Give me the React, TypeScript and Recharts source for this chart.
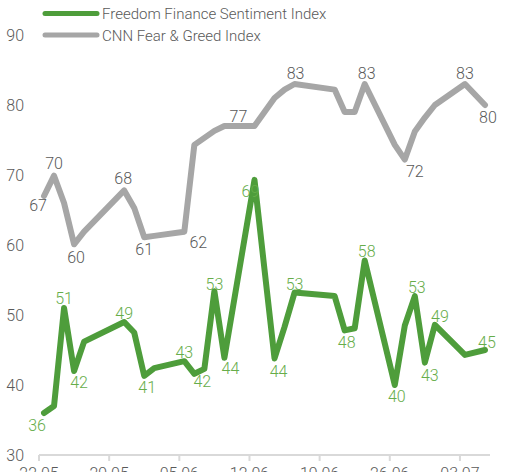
import React from "react";
import { LineChart, Line, XAxis, YAxis, LabelList } from "recharts";

// Trading days (dd.mm, 2023)
const tradingDates = [
  "22.05", "23.05", "24.05", "25.05", "26.05", "30.05", "31.05", "01.06", "02.06",
  "05.06", "06.06", "07.06", "08.06", "09.06", "12.06", "13.06", "14.06", "15.06",
  "16.06", "20.06", "21.06", "22.06", "23.06", "26.06", "27.06", "28.06", "29.06",
  "30.06", "03.07", "05.07",
];

const freedomIndex = [
  36, 37, 51, 42, 46.2, 49, 47.5, 41.3, 42.4, 43.4, 41.6, 42.3, 53.4, 43.9, 69.3,
  56.5, 43.8, 48.3, 53.2, 52.7, 47.8, 48.1, 57.8, 40, 48.5, 52.7, 43.2, 48.6, 44.3, 45,
];

const cnnIndex = [
  67, 69.9, 66, 60.1, 61.9, 67.8, 65.3, 61.1, 61.3, 61.9, 74.3, 75.3, 76.3, 77, 77,
  79, 81, 82.2, 83, 82.2, 79, 79, 83, 74.3, 72.2, 76.2, 78.2, 80, 83, 80,
];

const tickLabels = ["22.05", "29.05", "05.06", "12.06", "19.06", "26.06", "03.07"];
const yTicks = [30, 40, 50, 60, 70, 80, 90];

// Which points carry a value label, and where the label sits relative to the point (style)
const greenLabelPlacement: Record<number, [number, number]> = {
  0: [-7, 12], 2: [0, -10], 3: [5, 11], 5: [0, -9], 7: [3, 12], 9: [0, -9],
  10: [8, 8], 12: [0, -7], 13: [6, 11], 14: [-4, 12], 16: [4, 13], 18: [0, -8],
  20: [2, 12], 22: [2, -9], 23: [2, 11], 25: [2, -9], 26: [5, 13], 27: [5, -8], 29: [2, -8],
};
const grayLabelPlacement: Record<number, [number, number]> = {
  0: [-6, 9], 1: [0, -12], 3: [2, 13], 5: [-1, -12], 7: [0, 12], 9: [14, 11],
  13: [14, -10], 18: [1, -11], 22: [2, -11], 24: [10, 12], 28: [0, -11], 29: [3, 12],
};

const BASE = new Date(2023, 4, 22).getTime();
const dayOffset = (s: string) => {
  const [d, m] = s.split(".").map(Number);
  return Math.round((new Date(2023, m - 1, d).getTime() - BASE) / 86400000);
};

const data = tradingDates.map((s, i) => ({
  x: dayOffset(s) + 0.5,
  freedom: freedomIndex[i],
  cnn: cnnIndex[i],
}));

const FONT = "Roboto, 'Liberation Sans', sans-serif";
const GREEN = "#4e9d3b";
const GREEN_TEXT = "#66ad4a";
const GRAY = "#a6a6a6";
const TEXT = "#595959";

const makeLabel =
  (placement: Record<number, [number, number]>, color: string) =>
  (props: any) => {
    const { x, y, value, index } = props;
    const p = placement[index];
    if (!p) return null;
    return (
      <text
        x={x + p[0]}
        y={y + p[1]}
        textAnchor="middle"
        dominantBaseline="central"
        fill={color}
        fontSize={16}
        fontFamily={FONT}
        fontWeight={300}
      >
        {Math.round(value)}
      </text>
    );
  };

const Legend = () => (
  <svg
    width={512}
    height={50}
    style={{ position: "absolute", left: 0, top: 0, pointerEvents: "none" }}
  >
    <line x1={45} y1={13.5} x2={97} y2={13.5} stroke={GREEN} strokeWidth={5} strokeLinecap="round" />
    <text x={102} y={14} dominantBaseline="central" fill={TEXT} fontSize={15} fontFamily={FONT} fontWeight={300}>
      Freedom Finance Sentiment Index
    </text>
    <line x1={45} y1={35} x2={97} y2={35} stroke={GRAY} strokeWidth={5} strokeLinecap="round" />
    <text x={102} y={35.5} dominantBaseline="central" fill={TEXT} fontSize={15} fontFamily={FONT} fontWeight={300}>
      CNN Fear &amp; Greed Index
    </text>
  </svg>
);

export default function App() {
  return (
    <div
      style={{
        position: "absolute",
        left: 0,
        top: 0,
        width: 512,
        height: 472,
        overflow: "hidden",
        background: "#fff",
      }}
    >
      <LineChart
        width={512}
        height={492}
        data={data}
        margin={{ top: 35, right: 22, bottom: 7, left: 0 }}
      >
        <XAxis
          type="number"
          dataKey="x"
          domain={[0, 45]}
          ticks={[0, 7, 14, 21, 28, 35, 42]}
          tickFormatter={(v: number) => tickLabels[Math.round(v / 7)] ?? ""}
          axisLine={{ stroke: "#d9d9d9", strokeWidth: 2 }}
          tickLine={{ stroke: "#d9d9d9", strokeWidth: 2 }}
          tickSize={6}
          tickMargin={7}
          tick={{ fill: TEXT, fontSize: 16, fontFamily: FONT, fontWeight: 300 }}
          height={30}
          allowDataOverflow
        />
        <YAxis
          type="number"
          domain={[30, 90]}
          ticks={yTicks}
          axisLine={false}
          tickLine={false}
          tickSize={0}
          tickMargin={15}
          width={39}
          tick={{ fill: TEXT, fontSize: 16, fontFamily: FONT, fontWeight: 300 }}
        />
        <Line
          dataKey="freedom"
          stroke="none"
          dot={false}
          activeDot={false}
          isAnimationActive={false}
        >
          <LabelList dataKey="freedom" content={makeLabel(greenLabelPlacement, GREEN_TEXT)} />
        </Line>
        <Line
          dataKey="cnn"
          stroke={GRAY}
          strokeWidth={6}
          strokeLinejoin="round"
          strokeLinecap="round"
          dot={false}
          activeDot={false}
          isAnimationActive={false}
        >
          <LabelList dataKey="cnn" content={makeLabel(grayLabelPlacement, TEXT)} />
        </Line>
        <Line
          dataKey="freedom"
          stroke={GREEN}
          strokeWidth={6}
          strokeLinejoin="round"
          strokeLinecap="round"
          dot={false}
          activeDot={false}
          isAnimationActive={false}
        />
      </LineChart>
      <Legend />
    </div>
  );
}
